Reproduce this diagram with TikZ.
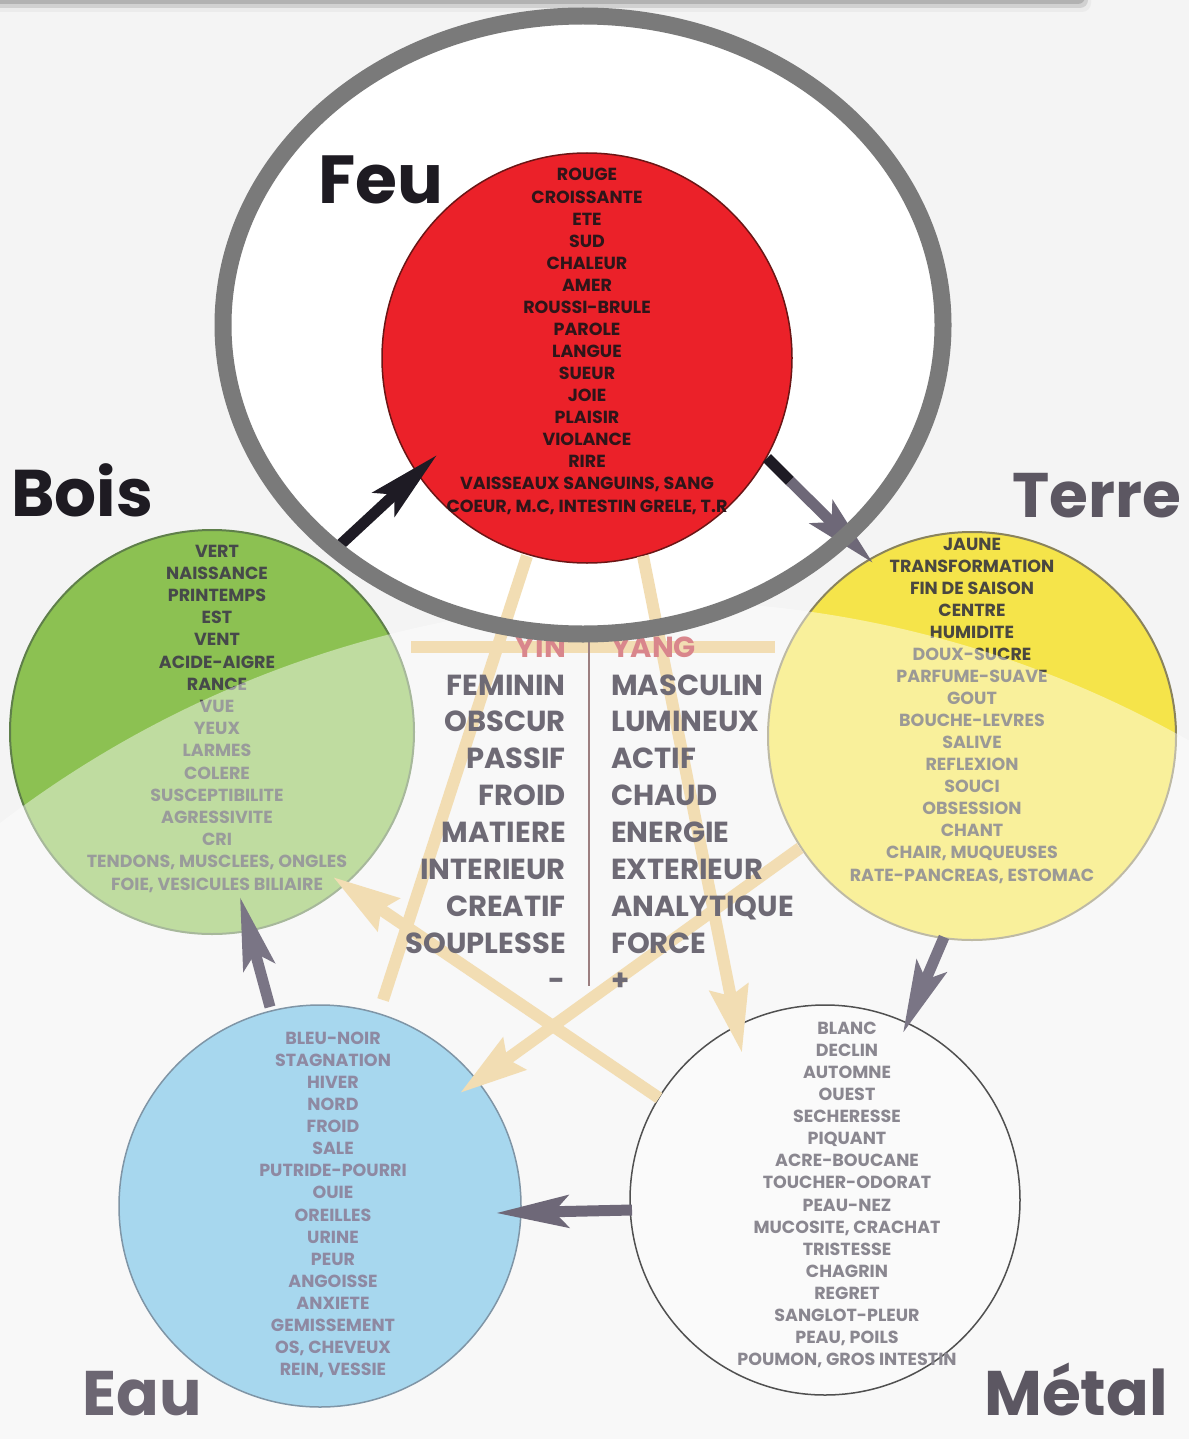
\documentclass[tikz,border=0pt]{standalone}
\usepackage{fontspec}
\setmainfont{Poppins}
\usetikzlibrary{arrows.meta}
\definecolor{bgc}{HTML}{F4F4F4}
\definecolor{feured}{HTML}{EB2129}
\definecolor{feuline}{HTML}{6B1515}
\definecolor{feutext}{HTML}{2E1519}
\definecolor{boisgreen}{HTML}{8CC152}
\definecolor{boisline}{HTML}{5F7F4A}
\definecolor{boistext}{HTML}{46494A}
\definecolor{terreyellow}{HTML}{F5E44A}
\definecolor{terreline}{HTML}{8A835C}
\definecolor{terretext}{HTML}{4A4740}
\definecolor{eaublue}{HTML}{A7D7EE}
\definecolor{eauline}{HTML}{7F95A6}
\definecolor{eautext}{HTML}{8E89A2}
\definecolor{metalfill}{HTML}{FAFAFA}
\definecolor{metalline}{HTML}{505050}
\definecolor{metaltext}{HTML}{8A8790}
\definecolor{tanc}{HTML}{F2DDB3}
\definecolor{yytext}{HTML}{6E6A75}
\definecolor{yinred}{HTML}{D9868C}
\definecolor{vlinec}{HTML}{9C7F80}
\definecolor{adark}{HTML}{1E1B24}
\definecolor{amid}{HTML}{6E6878}
\definecolor{agrey}{HTML}{7A7585}
\definecolor{ringc}{HTML}{7A7A7A}
\definecolor{labdark}{HTML}{1E1B22}
\definecolor{labgrey}{HTML}{5C5762}
\definecolor{labgrey2}{HTML}{6C6672}
\begin{document}
\begin{tikzpicture}[x=1pt,y=-1pt,
  cline/.style={font=\fontsize{17.5}{22}\selectfont\bfseries, anchor=base, inner sep=0pt},
  yyl/.style={font=\fontsize{29}{30}\selectfont\bfseries, inner sep=0pt, text=yytext},
  elabel/.style={font=\fontsize{66}{66}\selectfont\bfseries, inner sep=0pt, anchor=base west},
  elem/.style={circle, inner sep=0pt},
  mainarr/.style={line width=11pt, -{Stealth[length=72pt,width=32pt,inset=14pt]}},
  tanarr/.style={line width=12pt, draw=tanc, -{Stealth[length=66pt,width=38pt,inset=8pt]}},
  tanline/.style={line width=12pt, draw=tanc}
]
\useasboundingbox (0,0) rectangle (1189,1439);
% background
\fill[bgc] (0,0) rectangle (1189,1439);
\fill[white] (583,325) ellipse[x radius=352, y radius=301];
% header shadow
\fill[rounded corners=9pt, black!8] (-30,-30) rectangle (1091,12);
\fill[rounded corners=8pt, black!18] (-30,-30) rectangle (1088,8);
\fill[rounded corners=7pt, black!30] (-30,-30) rectangle (1085,4);

% circles under the glare
\node[elem, minimum size=404pt, fill=boisgreen, draw=boisline, line width=2pt] (bois) at (212,732) {};
\node[elem, minimum size=408pt, fill=terreyellow, draw=terreline, line width=2pt] (terre) at (972,736) {};
\node[elem, minimum size=410pt, fill=feured, draw=feuline, line width=1.5pt] (feu) at (587,358) {};

\foreach [count=\i] \t in {ROUGE, CROISSANTE, ETE, SUD, CHALEUR, AMER, ROUSSI-BRULE, PAROLE, LANGUE, SUEUR, JOIE, PLAISIR, VIOLANCE, RIRE, {VAISSEAUX SANGUINS, SANG}, {COEUR, M.C, INTESTIN GRELE, T.R}}
  \node[cline, text=feutext] (feut\i) at (587,{181+22.07*(\i-1)}) {\t};
\foreach [count=\i] \t in {VERT, NAISSANCE, PRINTEMPS, EST, VENT, ACIDE-AIGRE, RANCE, VUE, YEUX, LARMES, COLERE, SUSCEPTIBILITE, AGRESSIVITE, CRI, {TENDONS, MUSCLEES, ONGLES}, {FOIE, VESICULES BILIAIRE}}
  \node[cline, text=boistext] (boist\i) at (217,{557+22.2*(\i-1)}) {\t};
\foreach [count=\i] \t in {JAUNE, TRANSFORMATION, FIN DE SAISON, CENTRE, HUMIDITE, DOUX-SUCRE, PARFUME-SUAVE, GOUT, BOUCHE-LEVRES, SALIVE, REFLEXION, SOUCI, OBSESSION, CHANT, {CHAIR, MUQUEUSES}, {RATE-PANCREAS, ESTOMAC}}
  \node[cline, text=terretext] (terret\i) at (972,{550+22.07*(\i-1)}) {\t};

% glare overlay
\fill[white, opacity=0.45] (657,1683) circle[radius=1082];

% lower circles
\node[elem, minimum size=402pt, fill=eaublue, draw=eauline, line width=1.5pt] (eau) at (320,1206) {};
\node[elem, minimum size=390pt, fill=metalfill, draw=metalline, line width=1.5pt] (metal) at (825,1200) {};

% pale star (controlling cycle)
\coordinate (t1s) at (383,1000); \coordinate (t1e) at (527,556);
\coordinate (t2s) at (643,556); \coordinate (t2e) at (742,1053);
\coordinate (t3s) at (800,848); \coordinate (t3e) at (460,1093);
\coordinate (t4s) at (659,1098); \coordinate (t4e) at (333,877);
\coordinate (t5s) at (411,647); \coordinate (t5e) at (775,647);
\draw[tanline] (t1s) -- (t1e);
\draw[tanline] (t5s) -- (t5e);
\draw[tanarr] (t2s) -- (t2e);
\draw[tanarr] (t3s) -- (t3e);
\draw[tanarr] (t4s) -- (t4e);

% lower circle texts
\foreach [count=\i] \t in {BLEU-NOIR, STAGNATION, HIVER, NORD, FROID, SALE, PUTRIDE-POURRI, OUIE, OREILLES, URINE, PEUR, ANGOISSE, ANXIETE, GEMISSEMENT, {OS, CHEVEUX}, {REIN, VESSIE}}
  \node[cline, text=eautext] (eaut\i) at (333,{1044+22.13*(\i-1)}) {\t};
\foreach [count=\i] \t in {BLANC, DECLIN, AUTOMNE, OUEST, SECHERESSE, PIQUANT, ACRE-BOUCANE, TOUCHER-ODORAT, PEAU-NEZ, {MUCOSITE, CRACHAT}, TRISTESSE, CHAGRIN, REGRET, SANGLOT-PLEUR, {PEAU, POILS}, {POUMON, GROS INTESTIN}}
  \node[cline, text=metaltext] (metalt\i) at (847,{1034+22.13*(\i-1)}) {\t};

% yin / yang table
\coordinate (vl1) at (589,642); \coordinate (vl2) at (589,986);
\draw[vlinec, line width=2pt] (vl1) -- (vl2);
\node[yyl, anchor=base east, text=yinred] (yin) at (566,657) {YIN};
\node[yyl, anchor=base west, text=yinred] (yang) at (611,657) {YANG};
\foreach [count=\i] \t in {FEMININ, OBSCUR, PASSIF, FROID, MATIERE, INTERIEUR, CREATIF, SOUPLESSE, -}
  \node[yyl, anchor=base east] (yinw\i) at (566,{695+36.9*(\i-1)}) {\t};
\foreach [count=\i] \t in {MASCULIN, LUMINEUX, ACTIF, CHAUD, ENERGIE, EXTERIEUR, ANALYTIQUE, FORCE, +}
  \node[yyl, anchor=base west] (yangw\i) at (611,{695+36.9*(\i-1)}) {\t};

% generating cycle arrows
\coordinate (a1s) at (340,545); \coordinate (a1e) at (437,455);
\coordinate (a2s) at (767,458); \coordinate (a2m) at (790,481); \coordinate (a2e) at (873,563);
\coordinate (a3s) at (944,937); \coordinate (a3e) at (903,1033);
\coordinate (a4s) at (632,1210); \coordinate (a4e) at (496,1213);
\coordinate (a5s) at (270,1007); \coordinate (a5e) at (240,897);
\draw[mainarr, adark] (a1s) -- (a1e);
\draw[line width=11pt, adark] (a2s) -- (a2m);
\draw[mainarr, amid] (a2m) -- (a2e);
\draw[mainarr, agrey] (a3s) -- (a3e);
\draw[mainarr, amid] (a4s) -- (a4e);
\draw[mainarr, agrey] (a5s) -- (a5e);

% element labels
\node[elabel, text=labdark, font=\fontsize{68}{68}\selectfont\bfseries] (lfeu) at (318,204) {Feu};
\node[elabel, text=labdark] (lbois) at (11,516) {Bois};
\node[elabel, text=labgrey, font=\fontsize{63}{63}\selectfont\bfseries] (lterre) at (1012,517) {Terre};
\node[elabel, text=labgrey2, font=\fontsize{63}{63}\selectfont\bfseries] (leau) at (82,1415) {Eau};
\node[elabel, text=labgrey, font=\fontsize{63}{63}\selectfont\bfseries] (lmetal) at (984,1415) {Métal};

% highlight ring
\draw[ringc, line width=17pt] (583,325) ellipse[x radius=360, y radius=309];
\end{tikzpicture}
\end{document}
